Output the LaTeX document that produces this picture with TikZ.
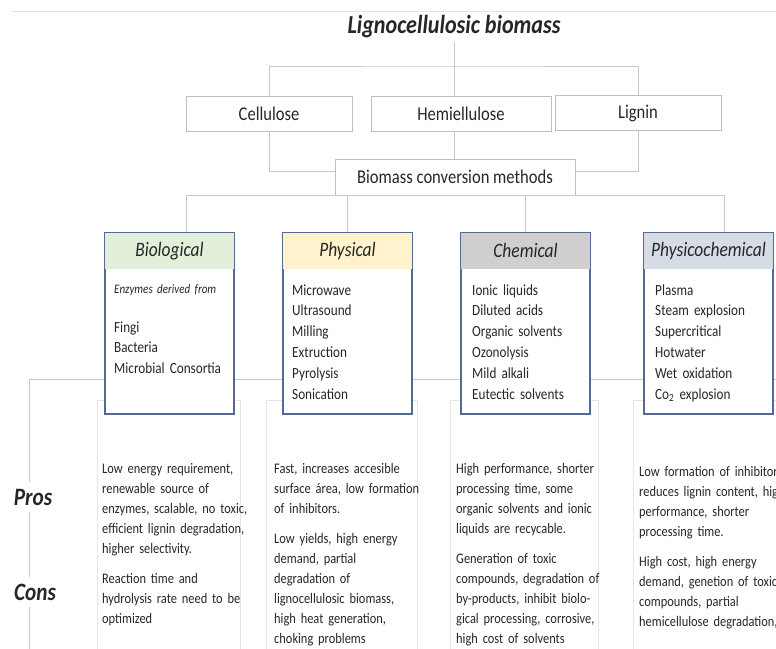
\documentclass[tikz,border=0pt]{standalone}
\usepackage{fontspec}
\setmainfont{Carlito}[FakeStretch=0.85]
\definecolor{linegray}{RGB}{200,200,200}
\definecolor{topgray}{RGB}{226,226,226}
\definecolor{boxgray}{RGB}{190,190,190}
\definecolor{notegray}{RGB}{230,230,230}
\definecolor{methodblue}{RGB}{84,106,148}
\definecolor{biogreen}{RGB}{226,239,218}
\definecolor{physyellow}{RGB}{255,242,204}
\definecolor{chemgray}{RGB}{208,206,206}
\definecolor{pchemblue}{RGB}{214,220,229}
\definecolor{textdark}{RGB}{38,38,38}

\begin{document}
\begin{tikzpicture}[x=1pt, y=-1pt,
	every node/.append style={text=textdark},
	conn/.style={draw=linegray, line width=1pt},
	partbox/.style={draw=boxgray, line width=0.8pt, minimum width=166pt, minimum height=35pt, inner sep=0pt, font=\fontsize{19.5}{23}\selectfont},
	methodbox/.style={draw=methodblue, line width=1.2pt, fill=white, minimum width=129pt, minimum height=181pt, inner sep=0pt},
	headtext/.style={font=\fontsize{20.5}{24}\selectfont\itshape},
	listtext/.style={anchor=base west, text width=140pt, align=left, inner sep=0pt, font=\fontsize{15.5}{20.8}\selectfont},
	notebox/.style={draw=notegray, line width=0.8pt},
	notetext/.style={anchor=base west, text width=175pt, align=left, inner sep=0pt, font=\fontsize{14.6}{20}\selectfont},
	sidelabel/.style={font=\fontsize{25}{29}\selectfont\bfseries\itshape, inner sep=7pt}]
	\useasboundingbox (0,0) rectangle (776,648);
	\draw[topgray, line width=1pt] (12,11) -- (776,11);
	%biomass parts
	\node[font=\fontsize{26}{30}\selectfont\bfseries\itshape] (title) at (454,27) {Lignocellulosic biomass};
	\node[partbox] (cellulose) at (269,113.5) {Cellulose};
	\node[partbox, minimum width=180pt] (hemi) at (461,114) {Hemiellulose};
	\node[partbox] (lignin) at (638,113) {Lignin};
	\node[partbox, minimum width=240pt, minimum height=36pt] (biomass) at (455,177) {Biomass conversion methods};
	\coordinate (split) at (454,66);
	\draw[conn] (title) -- (title |- hemi.north);
	\draw[conn] (cellulose.north) |- (split) -| (lignin.north);
	\draw[conn] (title |- hemi.south) -- (title |- biomass.north);
	\draw[conn] (cellulose.south) |- ([yshift=6pt]biomass.west);
	\draw[conn] (lignin.south) |- ([yshift=6pt]biomass.east);
	%pros and cons rail
	\coordinate (railstart) at (29,379);
	\coordinate (railend) at (780,379);
	\coordinate (railfoot) at (29,660);
	\node[sidelabel] (pros) at (33,497) {Pros};
	\node[sidelabel] (cons) at (35,592) {Cons};
	\draw[conn] (railstart) -- (railend);
	\draw[conn] (railstart) -- (railstart |- pros.north);
	\draw[conn] (railstart |- pros.south) -- (railstart |- cons.north);
	\draw[conn] (railstart |- cons.south) -- (railfoot);
	%note boxes
	\draw[notebox] (97,400) rectangle (240,660);
	\draw[notebox] (266,400) rectangle (417,660);
	\draw[notebox] (450,400) rectangle (598,660);
	\draw[notebox] (633,400) rectangle (790,660);
	%methods
	\foreach \m/\px/\col/\head in {bio/169.5/biogreen/Biological, phys/347.5/physyellow/Physical, chem/525.5/chemgray/Chemical, pchem/708.5/pchemblue/Physicochemical}{
		\node[methodbox] (\m) at (\px,323.5) {};
		\fill[\col] ([shift={(0.6pt,-0.6pt)}]\m.north west) rectangle ([shift={(-0.6pt,-37pt)}]\m.north east);
		\node[headtext] (\m-head) at ([yshift=-18.5pt]\m.north) {\head};
	}
	\draw[conn] ([xshift=16.5pt]bio.north) |- (biomass.south) -| ([xshift=15.5pt]pchem.north);
	\draw[conn] (phys.north) -- (phys.north |- biomass.south);
	\draw[conn] (chem.north) -- (chem.north |- biomass.south);
	%method lists
	\node[listtext, font=\fontsize{13}{16}\selectfont\itshape] (bio-note) at (114,293) {Enzymes derived from};
	\node[listtext] (bio-list) at (114,332) {Fingi\\Bacteria\\Microbial Consortia};
	\node[listtext] (phys-list) at (292,295) {Microwave\\Ultrasound\\Milling\\Extruction\\Pyrolysis\\Sonication};
	\node[listtext] (chem-list) at (472,295) {Ionic liquids\\Diluted acids\\Organic solvents\\Ozonolysis\\Mild alkali\\Eutectic solvents};
	\node[listtext] (pchem-list) at (655,295) {Plasma\\Steam explosion\\Supercritical\\Hotwater\\Wet oxidation\\Co\textsubscript{2} explosion};
	%pros and cons text
	\node[notetext] (bio-pros) at (102,473) {Low energy requirement,\\renewable source of\\enzymes, scalable, no toxic,\\efficient lignin degradation,\\higher selectivity.\\[10pt]Reaction time and\\hydrolysis rate need to be\\optimized};
	\node[notetext] (phys-pros) at (274,473) {Fast, increases accesible\\surface área, low formation\\of inhibitors.\\[10pt]Low yields, high energy\\demand, partial\\degradation of\\lignocellulosic biomass,\\high heat generation,\\choking problems};
	\node[notetext] (chem-pros) at (456,473) {High performance, shorter\\processing time, some\\organic solvents and ionic\\liquids are recycable.\\[10pt]Generation of toxic\\compounds, degradation of\\by-products, inhibit biolo-\\gical processing, corrosive,\\high cost of solvents};
	\node[notetext] (pchem-pros) at (639,476) {Low formation of inhibitors,\\reduces lignin content, high\\performance, shorter\\processing time.\\[10pt]High cost, high energy\\demand, genetion of toxic\\compounds, partial\\hemicellulose degradation,};
\end{tikzpicture}
\end{document}
